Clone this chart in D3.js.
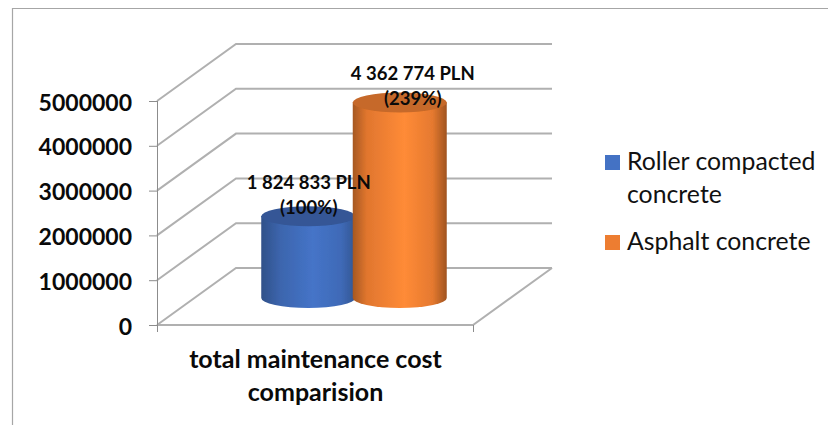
<!DOCTYPE html>
<html>
<head>
<meta charset="utf-8">
<script src="https://cdn.jsdelivr.net/npm/d3@7"></script>
<style>
  html, body { margin: 0; padding: 0; background: #fff; }
  svg { display: block; font-family: Lato, "Open Sans", sans-serif; }
  .axis text { font-family: Lato, "Open Sans", sans-serif; font-size: 23px; font-weight: 700; fill: #0a0a0a; }
  .label text { font-size: 18.5px; font-weight: 700; fill: #0a0a0a; }
  .cat { font-size: 25px; font-weight: 700; fill: #0a0a0a; }
  .legend text { font-size: 24.8px; fill: #111; }
</style>
</head>
<body>
<div id="chart"></div>
<script>
// Values
const categories = ["total maintenance cost", "comparision"];
const seriesNames = [["Roller compacted", "concrete"], ["Asphalt concrete"]];
const seriesValues = [1824833, 4362774];
const valueLabels = [["1 824 833 PLN", "(100%)"], ["4 362 774 PLN", "(239%)"]];
const seriesColors = ["#4472c4", "#ed7d31"];
const tickValues = [0, 1000000, 2000000, 3000000, 4000000, 5000000];

const width = 828, height = 425;

const svg = d3.select("#chart").append("svg")
  .attr("width", width)
  .attr("height", height);

// front plane of the 3d box
const front = { left: 157, right: 473, bottom: 325, top: 101 };
// depth offset from the front plane to the back wall
const depth = { dx: 79, dy: -57 };

const yScale = d3.scaleLinear().domain([0, 5000000]).range([front.bottom, front.top]);

// outer frame, only the top and left edges show
svg.append("path")
  .attr("d", `M12.5,${height}V8.5H${width}`)
  .attr("fill", "none")
  .attr("stroke", "#a6a6a6")
  .attr("stroke-width", 1.2);

const gridColor = "#b0b0b0";

// gridlines: side wall + back wall
const grid = svg.append("g").attr("fill", "none").attr("stroke", gridColor).attr("stroke-width", 2);
tickValues.forEach(v => {
  const y = yScale(v);
  grid.append("path")
    .attr("d", `M${front.left},${y}L${front.left + depth.dx},${y + depth.dy}H${front.right + depth.dx}`);
});
// floor front and right edge
grid.append("path")
  .attr("d", `M${front.left},${front.bottom}H${front.right}L${front.right + depth.dx},${front.bottom + depth.dy}`);

// y axis
const axis = svg.append("g")
  .attr("class", "axis")
  .attr("transform", `translate(${front.left},0)`)
  .call(d3.axisLeft(yScale).tickValues(tickValues).tickFormat(d3.format("d")).tickSize(8).tickPadding(17));
axis.selectAll("path, line").attr("stroke", "#8c8c8c").attr("stroke-width", 1);
axis.select(".domain").attr("d", `M0.5,${front.bottom + 6}V${front.top}`);
axis.selectAll("text").attr("dy", "9px");

// small ticks under the floor edge
svg.selectAll(".xtick").data([front.left, front.right]).join("line")
  .attr("class", "xtick")
  .attr("x1", d => d + 0.5).attr("x2", d => d + 0.5)
  .attr("y1", front.bottom).attr("y2", front.bottom + 7)
  .attr("stroke", "#8c8c8c");

// cylinders
const xScale = d3.scaleBand().domain(d3.range(seriesValues.length)).range([262, 447]).padding(0);
const rx = 47, ry = 10, baseOffset = 27;

const defs = svg.append("defs");
defs.append("filter").attr("id", "soft").append("feGaussianBlur").attr("stdDeviation", 0.7);

seriesColors.forEach((c, i) => {
  const col = d3.color(c);
  const g = defs.append("linearGradient").attr("id", `side${i}`);
  const stops = i === 0
    ? [[0, col.darker(1.0)], [0.2, col.darker(0.35)], [0.55, col.brighter(0.05)], [0.85, col.darker(0.2)], [1, col.darker(0.8)]]
    : [[0, col.darker(1.0)], [0.15, col.darker(0.15)], [0.55, col.brighter(0.3)], [0.85, col.darker(0.1)], [1, col.darker(1.1)]];
  stops.forEach(s => g.append("stop").attr("offset", s[0]).attr("stop-color", s[1]));
});

const cylinders = svg.append("g").attr("filter", "url(#soft)");
seriesValues.forEach((v, i) => {
  const cx = xScale(i) + xScale.bandwidth() / 2 + (i === 0 ? 0 : -1);
  const yBase = front.bottom - baseOffset;
  const yTop = yScale(v) - baseOffset;
  cylinders.append("path")
    .attr("d", `M${cx - rx},${yTop}V${yBase}A${rx},${ry} 0 0 0 ${cx + rx},${yBase}V${yTop}Z`)
    .attr("fill", `url(#side${i})`);
  cylinders.append("ellipse")
    .attr("cx", cx).attr("cy", yTop)
    .attr("rx", rx).attr("ry", ry)
    .attr("fill", d3.color(seriesColors[i]).darker(i === 0 ? 0.75 : 0.5));
});

// data labels, nudged from the cylinder centre like in the original
const labelNudge = [[0.5, -27], [12, -23]];
const labelG = svg.append("g").attr("class", "label").attr("text-anchor", "middle");
valueLabels.forEach((lines, i) => {
  const cx = xScale(i) + xScale.bandwidth() / 2 + labelNudge[i][0];
  lines.forEach((t, j) => {
    labelG.append("text")
      .attr("x", cx)
      .attr("y", yScale(seriesValues[i]) - baseOffset + labelNudge[i][1] + j * 25)
      .text(t);
  });
});

// category label
svg.selectAll(".cat").data(categories).join("text")
  .attr("class", "cat")
  .attr("x", 315.5)
  .attr("y", (d, i) => 368 + i * 33)
  .attr("text-anchor", "middle")
  .text(d => d);

// legend
const legend = svg.append("g").attr("class", "legend");
const legendY = [162, 242];
seriesNames.forEach((lines, i) => {
  legend.append("rect")
    .attr("x", 605).attr("y", legendY[i] - 7)
    .attr("width", 15).attr("height", 15)
    .attr("fill", seriesColors[i]);
  lines.forEach((t, j) => {
    legend.append("text")
      .attr("x", 627)
      .attr("y", legendY[i] + 8 + j * 33)
      .text(t);
  });
});
</script>
</body>
</html>
